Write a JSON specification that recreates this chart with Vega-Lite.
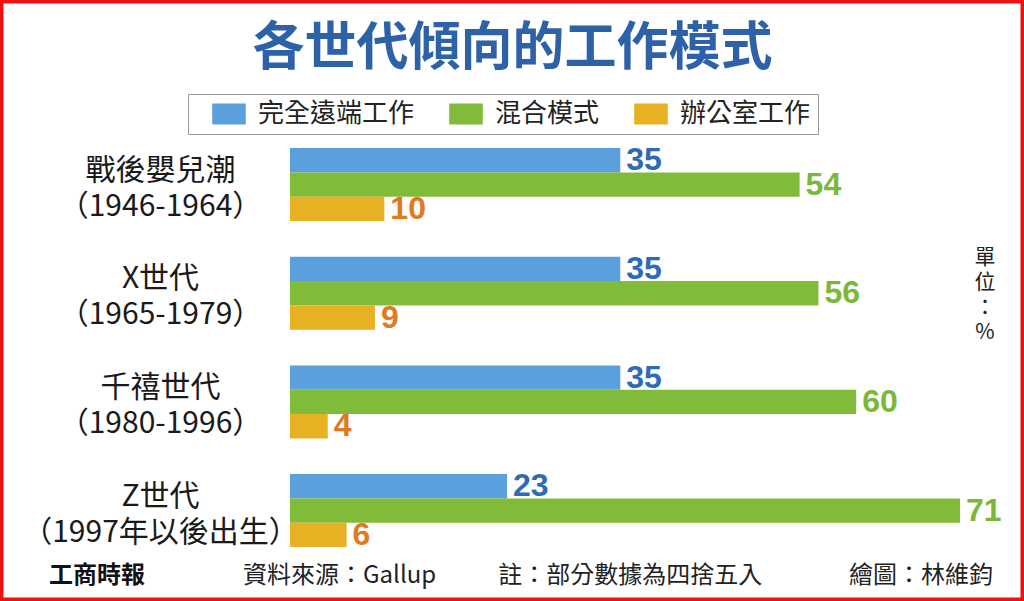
{
  "$schema": "https://vega.github.io/schema/vega-lite/v6.json",
  "width": 1024,
  "height": 601,
  "autosize": "none",
  "padding": 0,
  "background": "white",
  "config": {"view": {"stroke": "#ee1111", "strokeWidth": 7}, "font": "Noto Sans CJK TC"},
  "datasets": {
    "work": [
      {"gen": "戰後嬰兒潮|（1946-1964）", "series": "完全遠端工作", "value": 35},
      {"gen": "戰後嬰兒潮|（1946-1964）", "series": "混合模式", "value": 54},
      {"gen": "戰後嬰兒潮|（1946-1964）", "series": "辦公室工作", "value": 10},
      {"gen": "X世代|（1965-1979）", "series": "完全遠端工作", "value": 35},
      {"gen": "X世代|（1965-1979）", "series": "混合模式", "value": 56},
      {"gen": "X世代|（1965-1979）", "series": "辦公室工作", "value": 9},
      {"gen": "千禧世代|（1980-1996）", "series": "完全遠端工作", "value": 35},
      {"gen": "千禧世代|（1980-1996）", "series": "混合模式", "value": 60},
      {"gen": "千禧世代|（1980-1996）", "series": "辦公室工作", "value": 4},
      {"gen": "Z世代|（1997年以後出生）", "series": "完全遠端工作", "value": 23},
      {"gen": "Z世代|（1997年以後出生）", "series": "混合模式", "value": 71},
      {"gen": "Z世代|（1997年以後出生）", "series": "辦公室工作", "value": 6}
    ],
    "footer": [
      {"note": "工商時報"},
      {"note": "資料來源：Gallup"},
      {"note": "註：部分數據為四捨五入"},
      {"note": "繪圖：林維鈞"}
    ]
  },
  "resolve": {"scale": {"x": "independent"}},
  "layer": [
    {
      "data": {"name": "work"},
      "mark": {"type": "bar"},
      "encoding": {
        "y": {
          "field": "gen", "type": "nominal",
          "scale": {"domain": ["戰後嬰兒潮|（1946-1964）", "X世代|（1965-1979）", "千禧世代|（1980-1996）", "Z世代|（1997年以後出生）"], "paddingInner": 0.328, "paddingOuter": 0.9295, "align": 0.733},
          "axis": {"title": "各世代傾向的工作模式", "titleAngle": 0, "titleX": 352, "titleY": 48, "titleAlign": "center", "titleBaseline": "middle", "titleFontSize": 52, "titleFontWeight": "bold", "titleColor": "#2e62a8", "titleFont": "Noto Sans CJK TC", "titleLimit": 0, "ticks": false, "domain": false, "offset": -160, "labelPadding": 0, "labelOffset": -14, "labelAlign": "center", "labelBaseline": "middle", "labelFontSize": 30, "labelLineHeight": 36, "labelColor": "#1a1a1a", "labelFont": "Noto Sans CJK TC", "labelLimit": 0, "labelExpr": "split(datum.label, '|')"}
        },
        "yOffset": {"field": "series", "type": "nominal", "scale": {"domain": ["完全遠端工作", "混合模式", "辦公室工作"], "paddingInner": 0, "paddingOuter": 0}},
        "x": {"field": "value", "type": "quantitative", "scale": {"domain": [-30.73, 77.78], "nice": false, "zero": false}, "axis": null},
        "color": {
          "field": "series", "type": "nominal",
          "scale": {"domain": ["完全遠端工作", "混合模式", "辦公室工作"], "range": ["#5aa0dc", "#80bc3a", "#e6b224"]},
          "legend": {"title": null, "orient": "none", "legendX": 188, "legendY": 94, "direction": "horizontal", "symbolType": "M-1.6,-1H1.6V1H-1.6Z", "symbolSize": 441, "symbolOffset": 21, "symbolStrokeWidth": 0, "symbolOpacity": 1, "labelFontSize": 26, "labelFont": "Noto Sans CJK TC", "labelColor": "#222222", "labelOffset": 16, "columnPadding": 17, "padding": 7, "strokeColor": "#9a9a9a", "fillColor": "white", "labelLimit": 0}
        }
      }
    },
    {
      "data": {"name": "work"},
      "mark": {"type": "text", "align": "left", "baseline": "middle", "dx": 6, "dy": 0, "fontSize": 32, "fontWeight": "bold", "font": "Liberation Sans"},
      "encoding": {
        "y": {"field": "gen", "type": "nominal"},
        "yOffset": {"field": "series", "type": "nominal"},
        "x": {"field": "value", "type": "quantitative", "scale": {"domain": [-30.73, 77.78], "nice": false, "zero": false}, "axis": null},
        "text": {"field": "value", "type": "quantitative"},
        "fill": {"field": "series", "type": "nominal", "scale": {"domain": ["完全遠端工作", "混合模式", "辦公室工作"], "range": ["#2f6bb5", "#7bb83a", "#e07a20"]}, "legend": null}
      }
    },
    {
      "data": {"values": [{"label": "單位：%"}]},
      "mark": {"type": "text", "text": ["單", "位", "：", "%"], "lineHeight": 25, "fontSize": 21, "dy": -35, "align": "center", "baseline": "middle", "color": "#222222", "font": "Noto Sans CJK TC"},
      "encoding": {
        "x": {"datum": 73.65, "type": "quantitative", "scale": {"domain": [-30.73, 77.78], "nice": false, "zero": false}, "axis": null},
        "y": {"datum": "X世代|（1965-1979）", "type": "nominal"}
      }
    },
    {
      "data": {"name": "footer"},
      "transform": [{"filter": "datum.note === '工商時報'"}],
      "mark": {"type": "text", "align": "left", "baseline": "middle", "fontSize": 24, "fontWeight": "bold", "color": "#111111", "font": "Noto Sans CJK TC"},
      "encoding": {
        "x": {"field": "note", "type": "nominal", "scale": {"type": "point", "domain": ["工商時報", "資料來源：Gallup", "註：部分數據為四捨五入", "繪圖：林維鈞"], "padding": 0.2615, "align": 0.322}, "axis": null},
        "y": {"value": 576},
        "text": {"field": "note"}
      }
    },
    {
      "data": {"name": "footer"},
      "transform": [{"filter": "datum.note !== '工商時報'"}],
      "mark": {"type": "text", "align": "center", "baseline": "middle", "fontSize": 24, "color": "#222222", "font": "Noto Sans CJK TC"},
      "encoding": {
        "x": {"field": "note", "type": "nominal", "scale": {"type": "point", "domain": ["工商時報", "資料來源：Gallup", "註：部分數據為四捨五入", "繪圖：林維鈞"], "padding": 0.2615, "align": 0.322}, "axis": null},
        "y": {"value": 576},
        "text": {"field": "note"}
      }
    }
  ]
}
